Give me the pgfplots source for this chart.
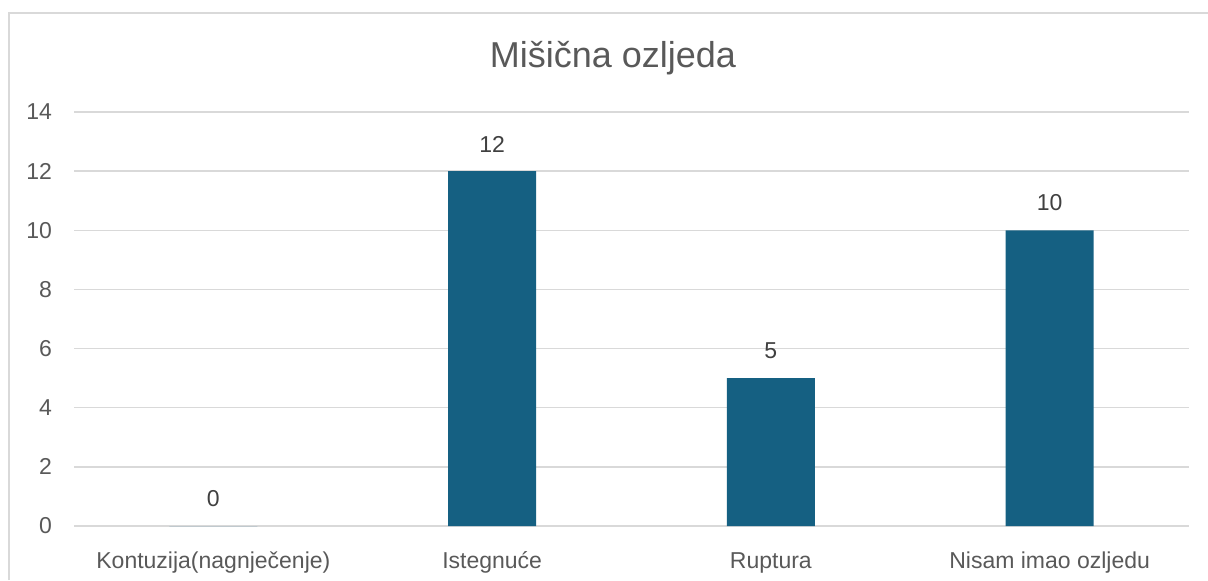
\documentclass[border=0pt]{standalone}
\usepackage{fontspec}
\setmainfont{Liberation Sans}
\usepackage{pgfplots}
\pgfplotsset{compat=1.18}
\definecolor{barblue}{HTML}{156082}
\definecolor{gridgray}{HTML}{D9D9D9}
\definecolor{ticktext}{HTML}{595959}
\definecolor{labeltext}{HTML}{404040}
\begin{document}
\begin{tikzpicture}
\path[use as bounding box] (-37pt,-27pt) rectangle (567pt,263pt);
\draw[gridgray, line width=0.75pt] (-32.5pt,-27pt) -- (-32.5pt,256.5pt) -- (567pt,256.5pt);
\begin{axis}[
    at={(0pt,0pt)}, anchor=south west,
    scale only axis,
    width=557.5pt, height=207pt,
    xmin=-0.5, xmax=3.5,
    ymin=0, ymax=14,
    ytick={0,2,...,14},
    xtick={0,1,2,3},
    xticklabels={Kontuzija(nagnječenje), Istegnuće, Ruptura, Nisam imao ozljedu},
    ymajorgrids,
    grid style={gridgray, line width=0.75pt},
    axis line style={draw=none},
    major tick style={draw=none},
    tick label style={font=\fontsize{11.5}{13}\selectfont, text=ticktext},
    /pgf/number format/assume math mode=true,
    yticklabel style={xshift=-7.5pt},
    xticklabel style={anchor=base, yshift=-17pt},
    ybar, bar width=44pt,
    nodes near coords,
    every node near coord/.append style={font=\fontsize{11.5}{13}\selectfont, text=labeltext, yshift=6pt},
]
\addplot[fill=barblue, draw=none] coordinates {(0,0) (1,12) (2,5) (3,10)};
\end{axis}
\node[font=\fontsize{18}{21}\selectfont, text=ticktext] at (269.5pt,234pt) {Mišična ozljeda};
\end{tikzpicture}
\end{document}
